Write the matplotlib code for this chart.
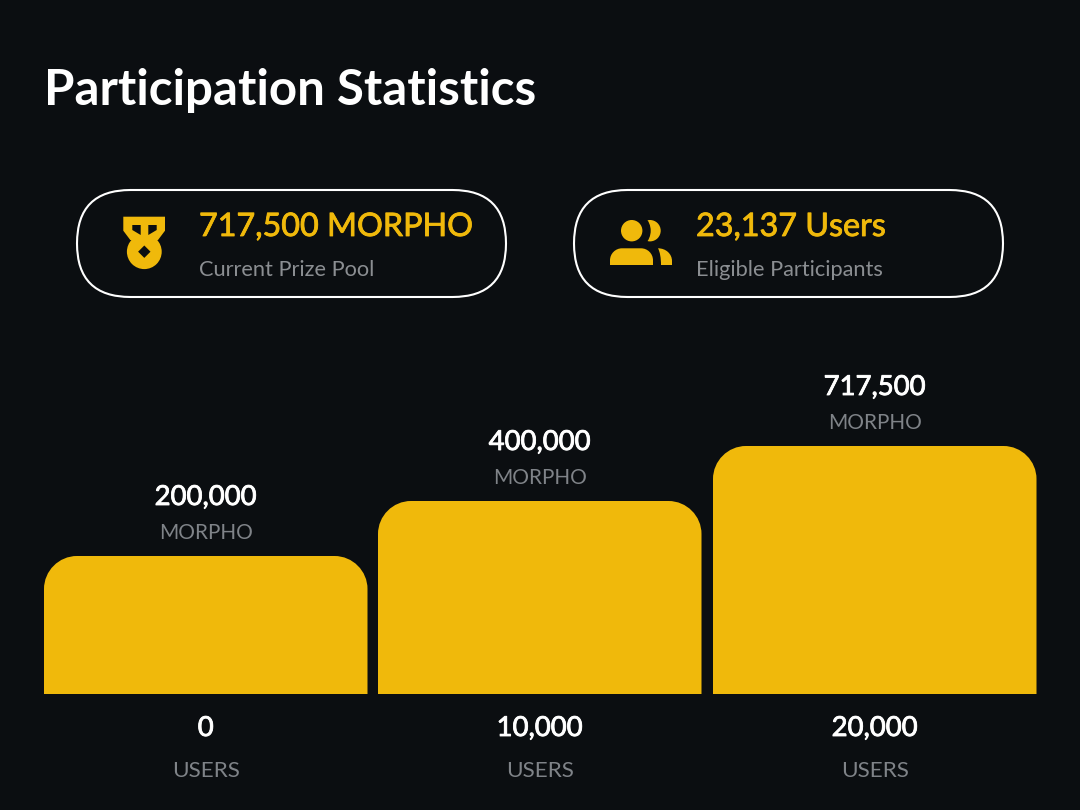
import matplotlib
matplotlib.use("Agg")
import matplotlib.pyplot as plt
import matplotlib.patheffects as pe
from matplotlib.patches import Circle, FancyBboxPatch, PathPatch, Polygon
from matplotlib.path import Path

plt.rcParams["font.family"] = ["Lato", "Open Sans", "DejaVu Sans"]

BG = "#0b0e11"
YELLOW = "#f0b90b"
GREY = "#7f8388"
PILL_GREY = "#8b8e92"

title = "Participation Statistics"
prize_labels = ["200,000", "400,000", "717,500"]
user_labels = ["0", "10,000", "20,000"]
# bars are not to scale in the source, heights are measured off the picture
bar_heights = [138, 193, 248]
stat_values = ["717,500 MORPHO", "23,137 Users"]
stat_captions = ["Current Prize Pool", "Eligible Participants"]
token = "MORPHO"
unit = "USERS"

W, H = 1080, 810
BASE = 694
BAR_W = 323.5
BAR_LEFT = [44, 378, 713]
RADIUS = 33


def px(size):
    return size * 0.72


def heavier(color, width):
    # Lato has no medium weight here, thicken the regular one a little
    return [pe.withStroke(linewidth=width, foreground=color)]


def rounded_bar(ax, x, w, h, r, base=BASE):
    top = base - h
    k = 0.45 * r
    verts = [
        (x, base), (x, top + r),
        (x, top + k), (x + k, top), (x + r, top),
        (x + w - r, top),
        (x + w - k, top), (x + w, top + k), (x + w, top + r),
        (x + w, base), (x, base),
    ]
    codes = [Path.MOVETO, Path.LINETO, Path.CURVE4, Path.CURVE4, Path.CURVE4,
             Path.LINETO, Path.CURVE4, Path.CURVE4, Path.CURVE4, Path.LINETO,
             Path.CLOSEPOLY]
    ax.add_patch(PathPatch(Path(verts, codes), fc=YELLOW, ec="none"))


def medal_icon(ax):
    ax.add_patch(Polygon([(123.3, 216.7), (165, 216.7), (165, 230.7), (158, 240),
                          (130.3, 240), (123.3, 230.7)], fc=YELLOW, ec="none"))
    ax.add_patch(Circle((144.3, 251.7), 17.4, fc=YELLOW, ec="none"))
    ax.add_patch(Polygon([(132.3, 225), (140.7, 225), (140.7, 235), (132.3, 230)],
                         fc=BG, ec="none"))
    ax.add_patch(Polygon([(148.3, 225), (156.7, 225), (156.7, 230), (148.3, 235)],
                         fc=BG, ec="none"))
    ax.add_patch(Polygon([(144.3, 245.5), (150.5, 251.7), (144.3, 257.9), (138.1, 251.7)],
                         fc=BG, ec="none"))


def people_icon(ax):
    ax.add_patch(Circle((650, 230.7), 10.7, fc=YELLOW, ec="none"))
    ax.add_patch(Circle((631.7, 230.7), 19, fc=BG, ec="none"))
    ax.add_patch(Circle((631.7, 230.7), 10.7, fc=YELLOW, ec="none"))
    rounded_bar(ax, 610, 43, 16.7, 12, base=265)
    verts = [(658, 248.3), (666, 248.3), (672, 254), (672, 261), (672, 265),
             (661, 265), (661, 258), (660, 252), (658, 248.3), (658, 248.3)]
    codes = [Path.MOVETO, Path.CURVE4, Path.CURVE4, Path.CURVE4, Path.LINETO,
             Path.LINETO, Path.CURVE4, Path.CURVE4, Path.CURVE4, Path.CLOSEPOLY]
    ax.add_patch(PathPatch(Path(verts, codes), fc=YELLOW, ec="none"))


fig = plt.figure(figsize=(10.8, 8.1), dpi=100, facecolor=BG)
ax = fig.add_axes([0, 0, 1, 1])
ax.set_xlim(0, W)
ax.set_ylim(H, 0)
ax.axis("off")

ax.text(44, 105, title, color="white", fontsize=px(49.2), fontweight="bold", va="baseline")

for left, value, caption, text_x in zip([77, 574], stat_values, stat_captions, [199, 696]):
    ax.add_patch(FancyBboxPatch((left, 190), 429, 107,
                                boxstyle="round,pad=0,rounding_size=53.5",
                                fc="none", ec="white", lw=1.5))
    ax.text(text_x, 236, value, color=YELLOW, fontsize=px(32.3), va="baseline",
            path_effects=heavier(YELLOW, 0.6))
    ax.text(text_x, 276, caption, color=PILL_GREY, fontsize=px(21.8), va="baseline")

medal_icon(ax)
people_icon(ax)

for left, h, prize, users in zip(BAR_LEFT, bar_heights, prize_labels, user_labels):
    rounded_bar(ax, left, BAR_W, h, RADIUS)
    cx = left + BAR_W / 2
    top = BASE - h
    ax.text(cx, top - 51, prize, color="white", fontsize=px(27.5), ha="center", va="baseline",
            path_effects=heavier("white", 0.6))
    ax.text(cx, top - 17, token, color=GREY, fontsize=px(20.8), ha="center", va="baseline")
    ax.text(cx, 736, users, color="white", fontsize=px(27.5), ha="center", va="baseline",
            path_effects=heavier("white", 0.6))
    ax.text(cx, 777, unit, color=GREY, fontsize=px(22.5), ha="center", va="baseline")

fig.savefig("out.png", dpi=100, facecolor=BG)
